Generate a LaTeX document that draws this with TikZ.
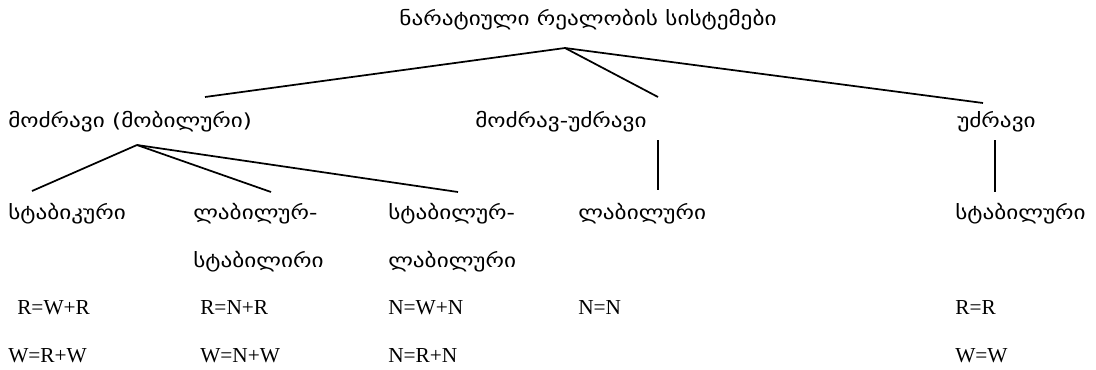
\documentclass[tikz,border=0pt]{standalone}
\usepackage{fontspec}
\setmainfont{Liberation Serif}
\newfontfamily\geo[FakeStretch=1.2]{DejaVu Sans}
\begin{document}
\begin{tikzpicture}[x=0.75pt,y=-0.75pt,
  geotxt/.style={font=\geo\fontsize{14.5pt}{17pt}\selectfont, anchor=base west, inner sep=0pt},
  lattxt/.style={font=\fontsize{16pt}{19pt}\selectfont, anchor=base west, inner sep=0pt},
  link/.style={line width=1.3pt}]
\useasboundingbox (0,0) rectangle (1096,369);
% title and level 1
\node[geotxt, anchor=base] (title) at (588,25) {ნარატიული რეალობის სისტემები};
\node[geotxt] (mob) at (8,127) {მოძრავი (მობილური)};
\node[geotxt] (mix) at (475,127) {მოძრავ-უძრავი};
\node[geotxt] (imm) at (957,127) {უძრავი};
% level 2
\node[geotxt] (stabik) at (8,219) {სტაბიკური};
\node[geotxt] (labstab) at (193,219) {ლაბილურ-};
\node[geotxt] (labstab2) at (193,267) {სტაბილირი};
\node[geotxt] (stablab) at (388,219) {სტაბილურ-};
\node[geotxt] (stablab2) at (388,267) {ლაბილური};
\node[geotxt] (lab) at (578,219) {ლაბილური};
\node[geotxt] (stab) at (955,219) {სტაბილური};
% formulas
\node[lattxt] (f1) at (17,314) {R=W+R};
\node[lattxt] (f2) at (8,362) {W=R+W};
\node[lattxt] (f3) at (200,314) {R=N+R};
\node[lattxt] (f4) at (200,362) {W=N+W};
\node[lattxt] (f5) at (388,314) {N=W+N};
\node[lattxt] (f6) at (388,362) {N=R+N};
\node[lattxt] (f7) at (578,314) {N=N};
\node[lattxt] (f8) at (955,314) {R=R};
\node[lattxt] (f9) at (955,362) {W=W};
% connector points
\coordinate (tapex) at (565,48);
\coordinate (mobtop) at (205,97);
\coordinate (mixtop) at (658,97);
\coordinate (immtop) at (983,103);
\coordinate (mapex) at (137,145);
\coordinate (stabiktop) at (32,191);
\coordinate (labstabtop) at (271,192);
\coordinate (stablabtop) at (458,192);
\coordinate (mixbot) at (658,140);
\coordinate (labtop) at (658,190);
\coordinate (immbot) at (995,140);
\coordinate (stabtop) at (995,192);
\draw[link] (tapex) -- (mobtop);
\draw[link] (tapex) -- (mixtop);
\draw[link] (tapex) -- (immtop);
\draw[link] (mapex) -- (stabiktop);
\draw[link] (mapex) -- (labstabtop);
\draw[link] (mapex) -- (stablabtop);
\draw[link] (mixbot) -- (labtop);
\draw[link] (immbot) -- (stabtop);
\end{tikzpicture}
\end{document}
